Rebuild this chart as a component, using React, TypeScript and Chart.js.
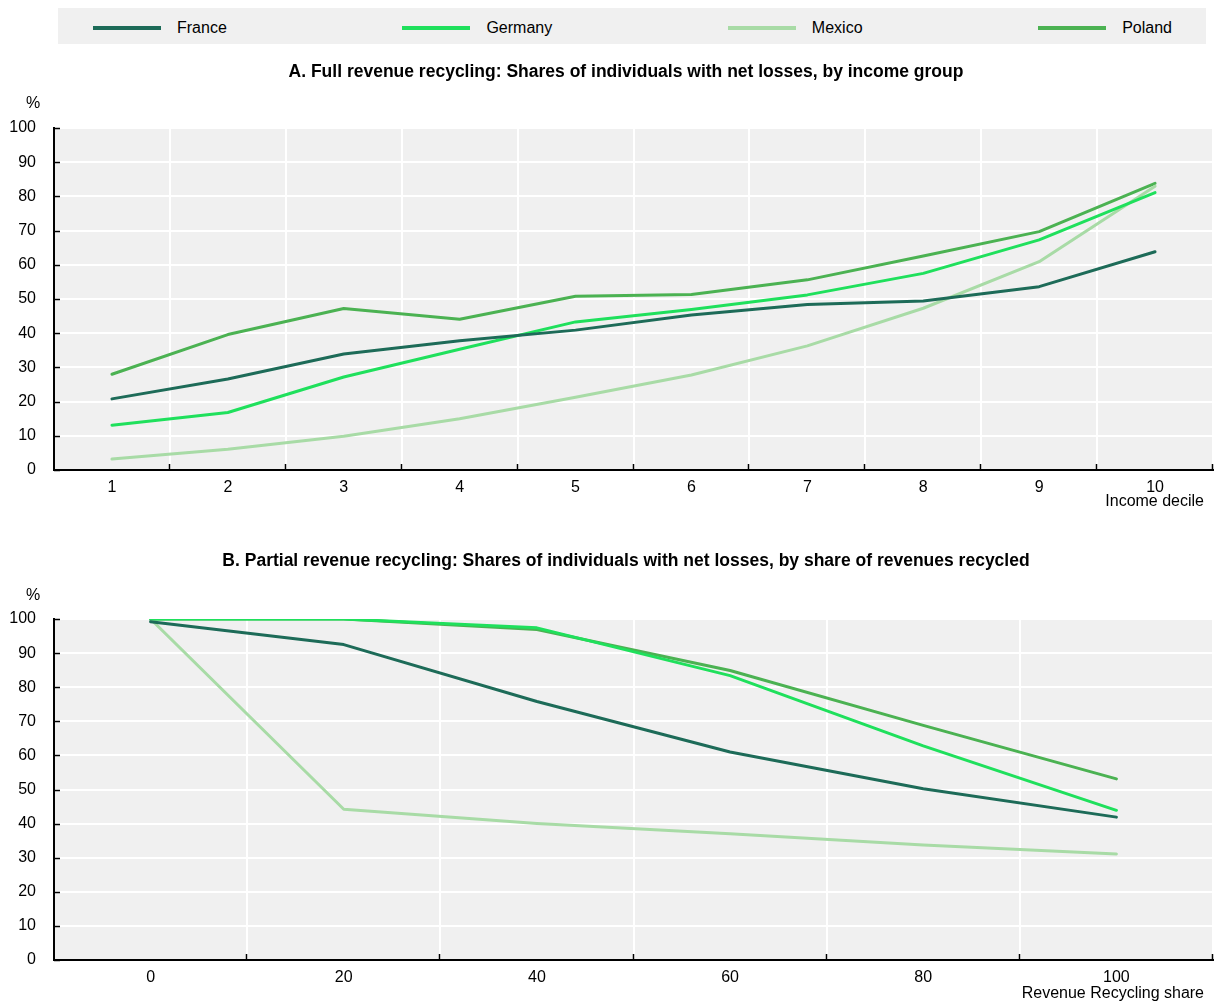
import React, { useEffect, useRef } from 'react';
import { Chart, registerables } from 'chart.js';

Chart.register(...registerables);

const countries = ['France', 'Germany', 'Mexico', 'Poland'];
const colors = ['#1d6b58', '#1fe05c', '#a8dba6', '#4bb252'];

// Panel A: income deciles
const deciles = ['1', '2', '3', '4', '5', '6', '7', '8', '9', '10'];
const franceA = [20.8, 26.6, 33.9, 37.8, 40.9, 45.3, 48.4, 49.4, 53.6, 63.8];
const germanyA = [13.1, 16.8, 27.2, 35.3, 43.3, 46.9, 51.2, 57.5, 67.3, 81.1];
const mexicoA = [3.2, 6.1, 9.9, 15.0, 21.3, 27.8, 36.3, 47.3, 60.9, 83.0];
const polandA = [28.0, 39.6, 47.2, 44.1, 50.8, 51.3, 55.6, 62.6, 69.7, 83.8];

// Panel B: share of revenues recycled
const shares = ['0', '20', '40', '60', '80', '100'];
const franceB = [99.2, 92.5, 75.8, 61.0, 50.2, 41.9];
const germanyB = [100, 100, 97.4, 83.4, 62.8, 43.9];
const mexicoB = [100, 44.2, 40.0, 37.0, 33.7, 31.1];
const polandB = [100, 100, 96.9, 84.9, 68.8, 53.1];

const titleA = 'A. Full revenue recycling: Shares of individuals with net losses, by income group';
const titleB = 'B. Partial revenue recycling: Shares of individuals with net losses, by share of revenues recycled';
const axisTitleA = 'Income decile';
const axisTitleB = 'Revenue Recycling share';

const FONT = '"Liberation Sans", Arial, sans-serif';

const annotPlugin = {
  id: 'annot',
  beforeDraw(chart: any) {
    const { ctx, chartArea: a } = chart;
    ctx.save();
    ctx.fillStyle = '#f0f0f0';
    ctx.fillRect(a.left, a.top, a.right - a.left, a.bottom - a.top);
    ctx.restore();
  },
  afterDraw(chart: any, _args: any, o: any) {
    const { ctx, chartArea: a } = chart;
    const xs = chart.scales.x;
    const ys = chart.scales.y;
    ctx.save();
    ctx.strokeStyle = '#000';
    ctx.lineWidth = 1.5;
    ys.ticks.forEach((_t: any, i: number) => {
      const py = Math.round(ys.getPixelForTick(i)) + 0.5;
      ctx.beginPath();
      ctx.moveTo(a.left, py);
      ctx.lineTo(a.left + 6, py);
      ctx.stroke();
    });
    const n = xs.ticks.length;
    for (let k = 1; k <= n; k++) {
      const px = Math.round(xs.getPixelForValue(k - 0.5)) - 0.5;
      ctx.beginPath();
      ctx.moveTo(px, a.bottom);
      ctx.lineTo(px, a.bottom - 6);
      ctx.stroke();
    }
    ctx.fillStyle = '#000';
    ctx.textBaseline = 'middle';
    ctx.textAlign = 'center';
    ctx.font = 'bold 17.5px ' + FONT;
    ctx.fillText(o.title, 626, o.titleY);
    ctx.font = '16px ' + FONT;
    ctx.fillText('%', 33, o.pctY);
    ctx.textAlign = 'right';
    ctx.fillText(o.axisTitle, 1204, o.axisTitleY);
    ctx.restore();
  },
};

function buildChart(
  canvas: HTMLCanvasElement,
  labels: string[],
  series: number[][],
  cfg: { title: string; titleY: number; pctY: number; axisTitle: string; axisTitleY: number; top: number; xHeight: number }
) {
  return new Chart(canvas, {
    type: 'line',
    data: {
      labels,
      datasets: series.map((s, i) => ({
        label: countries[i],
        data: s,
        borderColor: colors[i],
        backgroundColor: colors[i],
        borderWidth: 3,
        pointRadius: 0,
        tension: 0,
        borderCapStyle: 'round' as const,
        borderJoinStyle: 'round' as const,
        fill: false,
      })),
    },
    options: {
      responsive: false,
      animation: false,
      layout: { padding: { top: cfg.top, right: 1, left: 0, bottom: 0 } },
      plugins: {
        legend: { display: false },
        title: { display: false },
        tooltip: { enabled: false },
        annot: { title: cfg.title, titleY: cfg.titleY, pctY: cfg.pctY, axisTitle: cfg.axisTitle, axisTitleY: cfg.axisTitleY },
      } as any,
      scales: {
        x: {
          type: 'category',
          offset: true,
          grid: { display: true, offset: true, color: '#ffffff', lineWidth: 2, drawTicks: false },
          border: { display: true, color: '#000000', width: 2 },
          ticks: { color: '#000', font: { family: FONT, size: 16 }, padding: 8, maxRotation: 0, autoSkip: false },
          afterFit: (s: any) => {
            s.height = cfg.xHeight;
          },
        },
        y: {
          min: 0,
          max: 100,
          grid: { display: true, color: '#ffffff', lineWidth: 2, drawTicks: false },
          border: { display: true, color: '#000000', width: 2 },
          ticks: { stepSize: 10, color: '#000', font: { family: FONT, size: 16 }, padding: 18 },
          afterFit: (s: any) => {
            s.width = 54;
          },
        },
      },
    },
    plugins: [annotPlugin],
  } as any);
}

export default function App() {
  const refA = useRef<HTMLCanvasElement>(null);
  const refB = useRef<HTMLCanvasElement>(null);

  useEffect(() => {
    const cA = buildChart(refA.current!, deciles, [franceA, germanyA, mexicoA, polandA], {
      title: titleA,
      titleY: 22,
      pctY: 54,
      axisTitle: axisTitleA,
      axisTitleY: 452,
      top: 78,
      xHeight: 50,
    });
    const cB = buildChart(refB.current!, shares, [franceB, germanyB, mexicoB, polandB], {
      title: titleB,
      titleY: 31,
      pctY: 66,
      axisTitle: axisTitleB,
      axisTitleY: 464,
      top: 89,
      xHeight: 43,
    });
    return () => {
      cA.destroy();
      cB.destroy();
    };
  }, []);

  return (
    <div style={{ position: 'absolute', left: 0, top: 0, width: 1214, height: 1003, background: '#fff', fontFamily: FONT }}>
      <div
        style={{
          position: 'absolute',
          left: 58,
          top: 8,
          width: 1148,
          height: 36,
          background: '#f0f0f0',
          display: 'flex',
          alignItems: 'center',
          justifyContent: 'space-between',
          boxSizing: 'border-box',
          paddingLeft: 35,
          paddingRight: 34,
          paddingTop: 3,
        }}
      >
        {countries.map((c, i) => (
          <div key={c} style={{ display: 'flex', alignItems: 'center' }}>
            <span style={{ display: 'inline-block', width: 68, height: 4, background: colors[i], marginRight: 16 }} />
            <span style={{ fontSize: 16, color: '#000' }}>{c}</span>
          </div>
        ))}
      </div>
      <canvas ref={refA} width={1214} height={470} style={{ position: 'absolute', left: 0, top: 50, display: 'block' }} />
      <canvas ref={refB} width={1214} height={473} style={{ position: 'absolute', left: 0, top: 530, display: 'block' }} />
    </div>
  );
}
